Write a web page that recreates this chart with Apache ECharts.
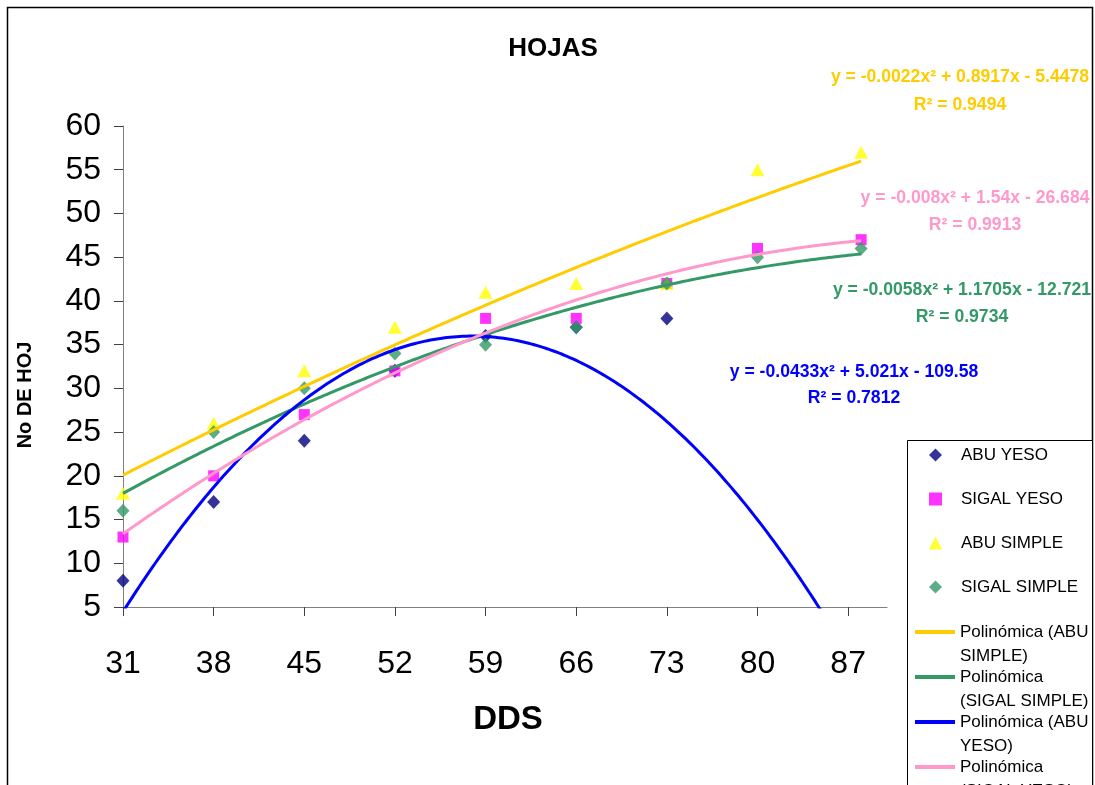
<!DOCTYPE html>
<html><head><meta charset="utf-8">
<script src="https://cdn.jsdelivr.net/npm/echarts@6/dist/echarts.min.js"></script>
<style>html,body{margin:0;padding:0;background:#fff}#c{width:1095px;height:785px}</style>
</head><body><div id="c"></div>
<script>
// ---- data ----
const xValues = [31, 38, 45, 52, 59, 66, 73, 80, 88];
const xTickLabels = [31, 38, 45, 52, 59, 66, 73, 80, 87];
const abuYeso = [8, 17, 24, 32, 36, 37, 38, 0, 0];
const sigalYeso = [13, 20, 27, 32, 38, 38, 42, 46, 47];
const abuSimple = [18, 26, 32, 37, 41, 42, 42, 55, 57];
const sigalSimple = [16, 25, 30, 34, 35, 37, 42, 45, 46];
// polynomial trendline coefficients (y = a x^2 + b x + c), as printed on the chart
const coefAbuSimple = [-0.0022, 0.8917, -5.4478];
const coefSigalSimple = [-0.0058, 1.1705, -12.721];
const coefAbuYeso = [-0.0433, 5.021, -109.58];
const coefSigalYeso = [-0.008, 1.54, -26.684];
const eqAbuSimple = ['y = -0.0022x² + 0.8917x - 5.4478', 'R² = 0.9494'];
const eqSigalYeso = ['y = -0.008x² + 1.54x - 26.684', 'R² = 0.9913'];
const eqSigalSimple = ['y = -0.0058x² + 1.1705x - 12.721', 'R² = 0.9734'];
const eqAbuYeso = ['y = -0.0433x² + 5.021x - 109.58', 'R² = 0.7812'];
const markerNames = ['ABU YESO', 'SIGAL YESO', 'ABU SIMPLE', 'SIGAL SIMPLE'];
const trendNames = ['Polinómica (ABU SIMPLE)', 'Polinómica (SIGAL SIMPLE)', 'Polinómica (ABU YESO)', 'Polinómica (SIGAL YESO)'];
const trendLegendText = ['Polinómica (ABU\nSIMPLE)', 'Polinómica\n(SIGAL SIMPLE)', 'Polinómica (ABU\nYESO)', 'Polinómica\n(SIGAL YESO)'];

const FONT = "'Liberation Sans', Arial, sans-serif";

function pairs(ys) { return xValues.map((x, i) => [x, ys[i]]); }
function trend(coef) {
  const out = [];
  const x0 = xValues[0], x1 = xValues[xValues.length - 1];
  for (let x = x0; x <= x1 + 1e-9; x += 0.25) {
    out.push([x, coef[0] * x * x + coef[1] * x + coef[2]]);
  }
  return out;
}

const chart = echarts.init(document.getElementById('c'));

function eqText(x, y, lines, color, lh) {
  return {
    type: 'text', x: x, y: y, z: 50,
    style: {
      text: lines.join('\n'), font: 'bold 17.6px ' + FONT, fill: color,
      align: 'center', verticalAlign: 'middle', textAlign: 'center', textVerticalAlign: 'middle',
      lineHeight: lh
    }
  };
}

const option = {
  backgroundColor: '#ffffff',
  animation: false,
  textStyle: { fontFamily: FONT },
  grid: { left: 123, top: 126, right: 208, bottom: 178, containLabel: false, outerBoundsMode: 'none' },
  xAxis: {
    type: 'value', min: 31, max: 90,
    axisLine: { show: true, onZero: false, lineStyle: { color: '#808080', width: 1 } },
    axisTick: { show: true, length: 9, customValues: xTickLabels, lineStyle: { color: '#404040' } },
    axisLabel: { customValues: xTickLabels, fontSize: 32, color: '#000', margin: 41, fontFamily: FONT },
    splitLine: { show: false }
  },
  yAxis: {
    type: 'value', min: 5, max: 60, interval: 5,
    axisLine: { show: true, onZero: false, lineStyle: { color: '#808080', width: 1 } },
    axisTick: { show: true, length: 9, lineStyle: { color: '#404040' } },
    axisLabel: { fontSize: 32, color: '#000', margin: 22, fontFamily: FONT },
    splitLine: { show: false }
  },
  legend: [
    {
      orient: 'vertical', left: 929, top: 444, height: 300, padding: 0, itemGap: 22,
      itemWidth: 13, itemHeight: 13, selectedMode: false,
      textStyle: { fontFamily: FONT, fontSize: 17, color: '#000', lineHeight: 22, padding: [0, 0, 0, 14] },
      data: [
        { name: markerNames[0], icon: 'diamond' },
        { name: markerNames[1], icon: 'rect' },
        { name: markerNames[2], icon: 'triangle' },
        { name: markerNames[3], icon: 'diamond' }
      ]
    },
    {
      orient: 'vertical', left: 915, top: 596, height: 400, padding: 0, itemGap: -27,
      itemWidth: 40, itemHeight: 4, selectedMode: false,
      textStyle: { fontFamily: FONT, fontSize: 17, color: '#000', lineHeight: 24 },
      formatter: function (name) { return '\n' + trendLegendText[trendNames.indexOf(name)]; },
      data: trendNames.map(n => ({ name: n, icon: 'rect' }))
    }
  ],
  series: [
    { name: markerNames[0], type: 'scatter', data: pairs(abuYeso), symbol: 'diamond', symbolSize: [13, 14], itemStyle: { color: '#000080' }, clip: true, z: 3 },
    { name: markerNames[1], type: 'scatter', data: pairs(sigalYeso), symbol: 'rect', symbolSize: [11, 11], itemStyle: { color: '#FF00FF' }, clip: true, z: 3 },
    { name: markerNames[2], type: 'scatter', data: pairs(abuSimple), symbol: 'triangle', symbolSize: [14, 13], itemStyle: { color: '#FFFF00' }, clip: true, z: 3 },
    { name: markerNames[3], type: 'scatter', data: pairs(sigalSimple), symbol: 'diamond', symbolSize: [13, 14], itemStyle: { color: '#339966' }, clip: true, z: 3 },
    { name: trendNames[0], type: 'line', data: trend(coefAbuSimple), showSymbol: false, symbol: 'none', clip: true, lineStyle: { color: '#FFCC00', width: 3 }, itemStyle: { color: '#FFCC00' }, z: 4 },
    { name: trendNames[1], type: 'line', data: trend(coefSigalSimple), showSymbol: false, symbol: 'none', clip: true, lineStyle: { color: '#339966', width: 3 }, itemStyle: { color: '#339966' }, z: 4 },
    { name: trendNames[2], type: 'line', data: trend(coefAbuYeso), showSymbol: false, symbol: 'none', clip: true, lineStyle: { color: '#0000FF', width: 3 }, itemStyle: { color: '#0000FF' }, z: 4 },
    { name: trendNames[3], type: 'line', data: trend(coefSigalYeso), showSymbol: false, symbol: 'none', clip: true, lineStyle: { color: '#FF99CC', width: 3 }, itemStyle: { color: '#FF99CC' }, z: 4 }
  ],
  graphic: [
    { type: 'rect', z: 0, shape: { x: 7.5, y: 7.5, width: 1085, height: 800 }, style: { fill: 'none', stroke: '#000', lineWidth: 1.5 } },
    { type: 'rect', z: 1, shape: { x: 907.5, y: 440.5, width: 185, height: 400 }, style: { fill: '#fff', stroke: '#000', lineWidth: 1 } },
    { type: 'text', x: 553, y: 49, z: 50, style: { text: 'HOJAS', font: 'bold 26px ' + FONT, fill: '#000', align: 'center', verticalAlign: 'middle', textAlign: 'center', textVerticalAlign: 'middle' } },
    { type: 'text', x: 508, y: 720, z: 50, style: { text: 'DDS', font: 'bold 33px ' + FONT, fill: '#000', align: 'center', verticalAlign: 'middle', textAlign: 'center', textVerticalAlign: 'middle' } },
    { type: 'text', x: 25, y: 395, rotation: Math.PI / 2, z: 50, style: { text: 'No DE HOJ', font: 'bold 20px ' + FONT, fill: '#000', align: 'center', verticalAlign: 'middle', textAlign: 'center', textVerticalAlign: 'middle' } },
    eqText(960, 91, eqAbuSimple, '#FFCC00', 28),
    eqText(975, 211.5, eqSigalYeso, '#FF99CC', 27),
    eqText(962, 303.5, eqSigalSimple, '#339966', 27),
    eqText(854, 385, eqAbuYeso, '#0000FF', 26)
  ]
};
chart.setOption(option);
</script>
</body></html>
